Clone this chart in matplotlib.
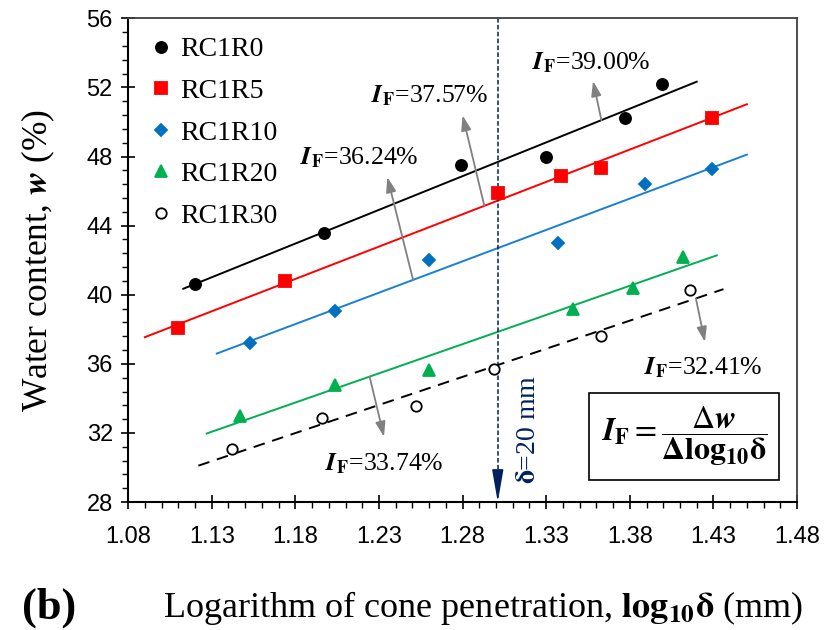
import numpy as np
import matplotlib
matplotlib.use('Agg')
import matplotlib.pyplot as plt
from matplotlib.ticker import FixedLocator, MultipleLocator, FormatStrFormatter

plt.rcParams['mathtext.fontset'] = 'stix'

# data: log10(cone penetration) vs water content (%)
series_names = ['RC1R0', 'RC1R5', 'RC1R10', 'RC1R20', 'RC1R30']

x_r0 = [1.120, 1.197, 1.279, 1.330, 1.377, 1.399]
w_r0 = [40.6, 43.6, 47.5, 47.95, 50.2, 52.2]

x_r5 = [1.110, 1.174, 1.301, 1.339, 1.363, 1.429]
w_r5 = [38.1, 40.8, 45.9, 46.9, 47.35, 50.25]

x_r10 = [1.153, 1.204, 1.260, 1.337, 1.389, 1.429]
w_r10 = [37.2, 39.05, 42.0, 43.0, 46.4, 47.3]

x_r20 = [1.147, 1.204, 1.260, 1.346, 1.382, 1.412]
w_r20 = [33.0, 34.8, 35.65, 39.2, 40.4, 42.2]

x_r30 = [1.142, 1.196, 1.252, 1.299, 1.363, 1.416]
w_r30 = [31.1, 32.85, 33.55, 35.7, 37.6, 40.3]

# x range of each fitted line
fit_x0 = [1.113, 1.090, 1.133, 1.127, 1.122]
fit_x1 = [1.420, 1.450, 1.450, 1.432, 1.436]

x_ticks = [1.08, 1.13, 1.18, 1.23, 1.28, 1.33, 1.38, 1.43, 1.48]
y_ticks = [28, 32, 36, 40, 44, 48, 52, 56]

if_labels = ['39.00%', '37.57%', '36.24%', '33.74%', '32.41%']
delta_mm = 20

xs = [x_r0, x_r5, x_r10, x_r20, x_r30]
ws = [w_r0, w_r5, w_r10, w_r20, w_r30]

colors = ['black', '#FF0000', '#0070C0', '#00B050', 'black']
markers = ['o', 's', 'D', '^', 'o']
msizes = [8, 8, 6.5, 8.5, 7.5]
faces = ['black', '#FF0000', '#0070C0', '#00B050', 'white']
line_colors = ['black', '#FF0000', '#1A7FD4', '#00B050', 'black']
line_styles = ['-', '-', '-', '-', (0, (6, 4))]

fig = plt.figure(figsize=(8.32, 6.3), dpi=100)
ax = fig.add_axes([0.154, 0.203, 0.804, 0.768])

fits = []
for i in range(5):
    k, b = np.polyfit(xs[i], ws[i], 1)
    fits.append((k, b))
    xx = np.array([fit_x0[i], fit_x1[i]])
    ax.plot(xx, k * xx + b, color=line_colors[i], linestyle=line_styles[i], lw=1.4, zorder=2)

for i in range(5):
    ax.plot(xs[i], ws[i], linestyle='none', marker=markers[i], ms=msizes[i],
            mfc=faces[i], mec=colors[i], mew=1.3, color=colors[i],
            label=series_names[i], zorder=3)

# I_F annotations: arrow start x (on fitted line), arrow tip, text position
arr_x = [1.363, 1.293, 1.2504, 1.2244, 1.4195]
tip_x = [1.358, 1.280, 1.235, 1.233, 1.4249]
tip_y = [52.37, 50.38, 46.81, 31.78, 37.27]
txt_x = [1.357, 1.260, 1.218, 1.233, 1.424]
txt_y = [53.4, 51.5, 47.95, 30.25, 35.8]

for i in range(5):
    k, b = fits[i]
    ax.annotate('', xy=(tip_x[i], tip_y[i]), xytext=(arr_x[i], k * arr_x[i] + b),
                arrowprops=dict(arrowstyle='-|>,head_length=0.9,head_width=0.3',
                                color='#808080', lw=1.3, shrinkA=0, shrinkB=0),
                zorder=4)
    ax.text(txt_x[i], txt_y[i], r'$\mathbfit{I}_{\mathbf{F}}$=' + if_labels[i],
            ha='center', va='center', fontsize=18.5, family='Liberation Serif', zorder=5)

# delta = 20 mm marker line
xd = np.log10(delta_mm)
ax.plot([xd, xd], [56, 29.6], color='#002060', lw=1.1, linestyle=(0, (3, 1.5)), zorder=2)
ax.annotate('', xy=(xd, 28), xytext=(xd, 29.8),
            arrowprops=dict(arrowstyle='-|>,head_length=2.0,head_width=0.35',
                            color='#002060', lw=1.1, shrinkA=0, shrinkB=0), zorder=4)
ax.text(1.3195, 32.2, r'$\mathbf{\delta}$=20 mm', rotation=90, ha='center', va='center',
        color='#002060', fontsize=20, family='Liberation Serif')

# formula box
ax.text(1.4124, 31.8,
        r'$\mathbfit{I}_{\mathbf{F}}=\dfrac{\Delta \mathbfit{w}}{\mathbf{\Delta log_{10}\delta}}$',
        ha='center', va='center', fontsize=23,
        bbox=dict(boxstyle='square,pad=0.35', fc='white', ec='black', lw=1.2))

ax.set_xlim(1.08, 1.48)
ax.set_ylim(28, 56)
ax.xaxis.set_major_locator(FixedLocator(x_ticks))
ax.xaxis.set_minor_locator(MultipleLocator(0.01))
ax.yaxis.set_major_locator(FixedLocator(y_ticks))
ax.yaxis.set_minor_locator(MultipleLocator(0.8))
ax.xaxis.set_major_formatter(FormatStrFormatter('%.2f'))
ax.tick_params(which='major', direction='inout', length=10, width=1.2, pad=6,
               labelsize=17)
ax.tick_params(axis='x', which='major', pad=12)
ax.tick_params(which='minor', direction='out', length=4, width=1.0)
for lab in ax.get_xticklabels() + ax.get_yticklabels():
    lab.set_family(['Liberation Sans Narrow', 'Liberation Sans'])

for s in ['left', 'bottom']:
    ax.spines[s].set_linewidth(1.5)
for s in ['top', 'right']:
    ax.spines[s].set_linewidth(1.3)
    ax.spines[s].set_color('#404040')

ax.set_ylabel(r'Water content, $\mathbfit{w}$ (%)', fontsize=25.5, family='Liberation Serif')
ax.yaxis.set_label_coords(-0.107, 0.5)

fig.text(0.58, 0.02, r'Logarithm of cone penetration, $\mathbf{log_{10}\delta}$ (mm)',
         ha='center', va='baseline', fontsize=26, family='Liberation Serif')
fig.text(0.026, 0.003, '(b)', ha='left', va='bottom', fontsize=32, fontweight='bold',
         family='Liberation Serif')

leg = ax.legend(loc='upper left', bbox_to_anchor=(0.012, 0.99), frameon=False,
                prop={'family': 'Liberation Serif', 'size': 20},
                handlelength=0.8, handletextpad=0.3, labelspacing=0.58,
                borderaxespad=0.2, borderpad=0.3)

fig.savefig('out.png', dpi=100)
